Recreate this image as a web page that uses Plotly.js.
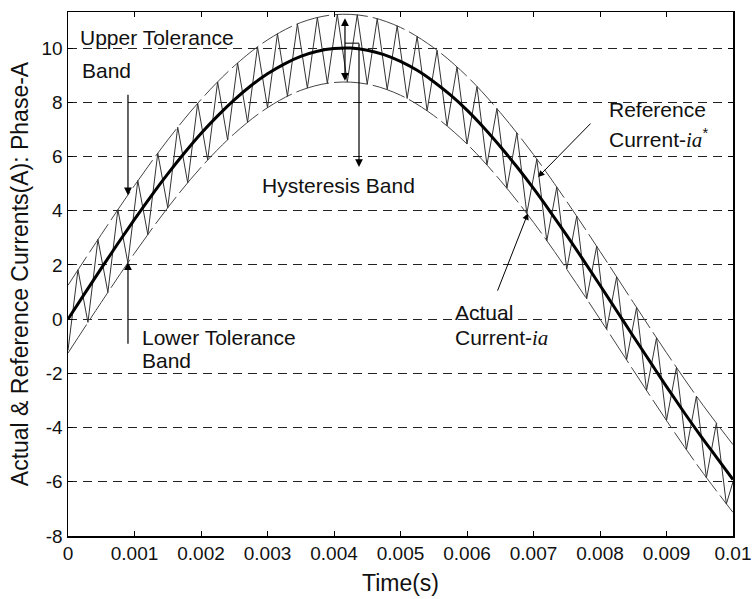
<!DOCTYPE html>
<html>
<head>
<meta charset="utf-8">
<script src="https://cdn.plot.ly/plotly-3.0.1.min.js"></script>
<style>
html,body{margin:0;padding:0;background:#fff;}
#chart{width:752px;height:599px;}
</style>
</head>
<body>
<div id="chart"></div>
<script>
// Reference current i_a*, t in seconds
const refTime = [0,0.00025,0.0005,0.00075,0.001,0.00125,0.0015,0.00175,0.002,0.00225,0.0025,0.00275,0.003,0.00325,0.0035,0.00375,0.004,0.00425,0.0045,0.00475,0.005,0.00525,0.0055,0.00575,0.006,0.00625,0.0065,0.00675,0.007,0.00725,0.0075,0.00775,0.008,0.00825,0.0085,0.00875,0.009,0.00925,0.0095,0.00975,0.01];
const refCurrent = [0,0.94,1.87,2.79,3.68,4.54,5.36,6.13,6.85,7.50,8.09,8.61,9.05,9.41,9.69,9.88,9.98,10.0,9.92,9.76,9.51,9.18,8.76,8.27,7.71,7.07,6.37,5.62,4.82,3.97,3.09,2.18,1.25,0.31,-0.63,-1.56,-2.49,-3.39,-4.26,-5.09,-5.92];

// Tolerance bands
const bandTime = [0,0.0005,0.001,0.0015,0.002,0.0025,0.003,0.0035,0.004,0.0045,0.005,0.0055,0.006,0.0065,0.007,0.0075,0.008,0.0085,0.009,0.0095,0.01];
const upperBand = [1.25,3.12,4.93,6.61,8.10,9.34,10.30,10.94,11.23,11.17,10.76,10.01,8.96,7.62,6.07,4.34,2.50,0.62,-1.24,-3.01,-4.63];
const lowerBand = [-1.25,0.62,2.43,4.11,5.60,6.84,7.80,8.44,8.73,8.67,8.26,7.51,6.46,5.12,3.57,1.84,0.00,-1.88,-3.74,-5.51,-7.13];

// Actual current i_a (turning points of the hysteresis zigzag)
const actTime = [0,0.00015,0.0003,0.00045,0.0006,0.00075,0.0009,0.00105,0.0012,0.00135,0.0015,0.00165,0.0018,0.00195,0.0021,0.00225,0.0024,0.00255,0.0027,0.00285,0.003,0.00315,0.0033,0.00345,0.0036,0.00375,0.0039,0.00405,0.0042,0.00435,0.0045,0.00465,0.0048,0.00495,0.0051,0.00525,0.0054,0.00555,0.0057,0.00585,0.006,0.00615,0.0063,0.00645,0.0066,0.00675,0.0069,0.00705,0.0072,0.00735,0.0075,0.00765,0.0078,0.00795,0.0081,0.00825,0.0084,0.00855,0.0087,0.00885,0.009,0.00915,0.0093,0.00945,0.0096,0.00975,0.0099,0.01];
const actCurrent = [-1.15,1.82,-0.12,2.94,0.99,4.04,2.08,5.11,3.12,6.12,4.11,7.08,5.03,7.96,5.87,8.75,6.61,9.45,7.26,10.04,7.80,10.53,8.22,10.89,8.52,11.13,8.70,11.24,8.75,11.23,8.67,11.08,8.47,10.82,8.14,10.43,7.69,9.92,7.13,9.30,6.46,8.58,5.69,7.77,4.83,6.87,3.90,5.90,2.89,4.87,1.84,3.80,0.75,2.69,-0.37,1.56,-1.50,0.43,-2.63,-0.69,-3.74,-1.78,-4.81,-2.84,-5.85,-3.84,-6.82,-6.0];

const xTicks = [0,0.001,0.002,0.003,0.004,0.005,0.006,0.007,0.008,0.009,0.01];
const xTickText = ['0','0.001','0.002','0.003','0.004','0.005','0.006','0.007','0.008','0.009','0.01'];
const yTicks = [-8,-6,-4,-2,0,2,4,6,8,10];
const yTickText = ['-8','-6','-4','-2','0','2','4','6','8','10'];

const traces = [
  {x: bandTime, y: upperBand, mode:'lines', line:{color:'#444', width:1, dash:'34px,5px', shape:'spline'}},
  {x: bandTime, y: lowerBand, mode:'lines', line:{color:'#444', width:1, dash:'34px,5px', shape:'spline'}},
  {x: actTime, y: actCurrent, mode:'lines', line:{color:'#333', width:1}},
  {x: refTime, y: refCurrent, mode:'lines', line:{color:'#000', width:3, shape:'spline'}}
];

const F = 'Liberation Sans, Arial, sans-serif';
const txt = (x, y, s) => ({x:x, y:y, xref:'x', yref:'y', text:s, showarrow:false, xanchor:'left', yanchor:'middle', font:{family:F, size:21, color:'#111'}});
const arr = (x, y, ax, ay, extra) => Object.assign({x:x, y:y, xref:'x', yref:'y', ax:ax, ay:ay, text:'', showarrow:true, arrowhead:2, arrowsize:1.3, arrowwidth:1.2, arrowcolor:'#000'}, extra||{});
const ia = '<span style="font-family:Liberation Serif;font-style:italic">ia</span>';

const annotations = [
  txt(0.00015, 10.40, 'Upper Tolerance'),
  txt(0.00018, 9.18, 'Band'),
  txt(0.00108, -0.66, 'Lower Tolerance'),
  txt(0.00108, -1.51, 'Band'),
  txt(0.00289, 4.94, 'Hysteresis Band'),
  txt(0.00810, 7.75, 'Reference'),
  txt(0.00810, 6.68, 'Current-' + ia + '<sup>*</sup>'),
  txt(0.00579, 0.26, 'Actual'),
  txt(0.00579, -0.70, 'Current-' + ia),
  arr(0.000902, 4.57, 0, -102),
  arr(0.000902, 2.10, 0, 83),
  arr(0.004165, 11.10, 0, 64, {arrowside:'end+start'}),
  arr(0.004376, 5.61, 0, -125),
  arr(0.007068, 5.24, 54, -55, {arrowwidth:1}),
  arr(0.006917, 3.91, -31, 79, {arrowwidth:1})
];

const shapes = [
  {type:'line', xref:'x', yref:'y', x0:0.004165, x1:0.004376, y0:10.18, y1:10.18, line:{color:'#000', width:1}}
];

const layout = {
  width:752, height:599,
  margin:{l:68, r:19, t:12, b:63},
  paper_bgcolor:'#fff', plot_bgcolor:'#fff',
  showlegend:false,
  font:{family:F, color:'#111'},
  xaxis:{
    range:[0,0.01], tickvals:xTicks, ticktext:xTickText,
    ticks:'inside', ticklen:5, tickcolor:'#000', mirror:'ticks',
    showline:true, linecolor:'#000', linewidth:1.5,
    showgrid:false, zeroline:false,
    tickfont:{family:F, size:19, color:'#111'},
    title:{text:'Time(s)', font:{family:F, size:23, color:'#111'}, standoff:11}
  },
  yaxis:{
    range:[-8,11.33], tickvals:yTicks, ticktext:yTickText,
    ticks:'inside', ticklen:5, tickcolor:'#000', mirror:'ticks',
    showline:true, linecolor:'#000', linewidth:1.5,
    showgrid:true, gridcolor:'#222', gridwidth:1, griddash:'9px,6px',
    zeroline:false,
    tickfont:{family:F, size:19, color:'#111'},
    title:{text:'Actual & Reference Currents(A): Phase-A', font:{family:F, size:23, color:'#111'}, standoff:6}
  },
  annotations: annotations,
  shapes: shapes
};

Plotly.newPlot('chart', traces, layout, {displayModeBar:false, staticPlot:true});
</script>
</body>
</html>
